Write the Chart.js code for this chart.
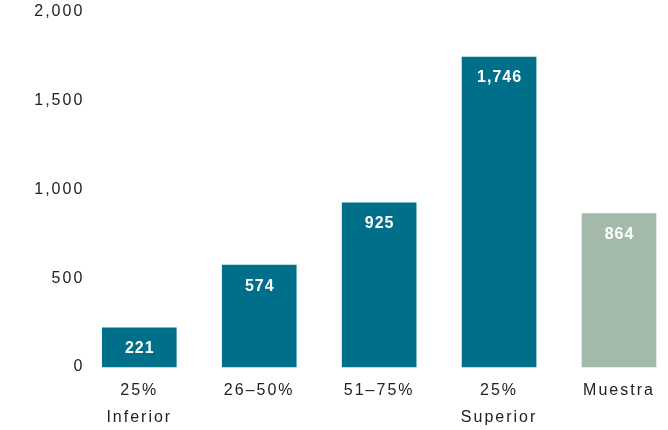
<!DOCTYPE html>
<html><head><meta charset="utf-8">
<script src="https://cdn.jsdelivr.net/npm/chart.js@4"></script>
<style>html,body{margin:0;padding:0;background:#fff}#wrap{width:668px;height:430px;position:relative}</style>
</head><body><div id="wrap"><canvas id="c"></canvas></div>
<script>
const categories = [["25%","Inferior"],"26–50%","51–75%",["25%","Superior"],"Muestra"];
const values = [221, 574, 925, 1746, 864];
const barColors = ["#00708A","#00708A","#00708A","#00708A","#A3B9A9"];
const yMin = 0, yMax = 2000, yStep = 500;
const valueLabels = values.map(v => v.toLocaleString('en-US'));

const spacingPlugin = {
  id: 'spacing',
  beforeUpdate(c){ c.ctx.letterSpacing = '2px'; },
  beforeLayout(c){ c.ctx.letterSpacing = '2px'; },
  beforeDraw(c){ c.ctx.letterSpacing = '2px'; }
};
const labelPlugin = {
  id: 'barLabels',
  afterDatasetsDraw(chart){
    const ctx = chart.ctx;
    const meta = chart.getDatasetMeta(0);
    ctx.save();
    ctx.font = 'bold 16px "Liberation Sans", Arial, sans-serif';
    ctx.letterSpacing = '1px';
    ctx.fillStyle = '#ffffff';
    ctx.textAlign = 'center';
    ctx.textBaseline = 'middle';
    meta.data.forEach((bar, i) => {
      ctx.fillText(valueLabels[i], bar.x + 0.5, bar.y + 21);
    });
    ctx.restore();
  }
};

new Chart(document.getElementById('c'), {
  type: 'bar',
  data: {
    labels: categories,
    datasets: [{
      data: values,
      backgroundColor: barColors,
      borderWidth: 0,
      barThickness: 74,
      clip: false
    }]
  },
  options: {
    responsive: true,
    maintainAspectRatio: false,
    animation: false,
    layout: { padding: { left: 0, right: 49, top: 12, bottom: 0 } },
    plugins: { legend: { display: false }, tooltip: { enabled: false } },
    scales: {
      x: {
        offset: false,
        grid: { display: false },
        border: { display: false },
        ticks: {
          color: '#222',
          padding: 1.5,
          maxRotation: 0,
          autoSkip: false,
          font: { family: '"Liberation Sans", Arial, sans-serif', size: 16, lineHeight: 1.7 }
        },
        afterFit(s){ s.height = 63; }
      },
      y: {
        min: yMin, max: yMax,
        grid: { display: false },
        border: { display: false },
        ticks: {
          stepSize: yStep,
          color: '#222',
          padding: 47,
          font: { family: '"Liberation Sans", Arial, sans-serif', size: 16 }
        },
        afterFit(s){ s.width = 139.3; s.paddingTop = 10; s.paddingBottom = 10; }
      }
    }
  },
  plugins: [spacingPlugin, labelPlugin]
});
</script>
</body></html>
